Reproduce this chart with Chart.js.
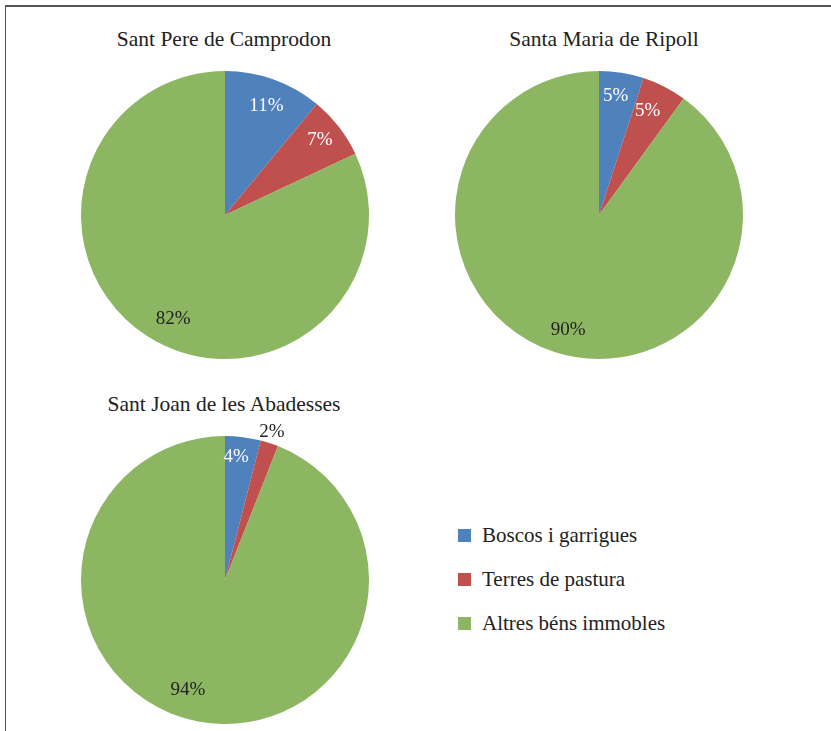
<!DOCTYPE html>
<html>
<head>
<meta charset="utf-8">
<script src="https://cdn.jsdelivr.net/npm/chart.js@4.4.1/dist/chart.umd.min.js"></script>
<style>
  body { margin: 0; background: #fff; width: 831px; height: 731px; position: relative; overflow: hidden; font-family: "Liberation Serif", serif; }
  #frame { position: absolute; left: 5px; top: 5px; width: 830px; height: 730px; border-left: 1px solid #555; border-top: 2px solid #555; }
  .title { position: absolute; font-size: 21.5px; color: #222; transform: translate(-50%, -50%); white-space: nowrap; }
  .pie { position: absolute; }
  #legend { position: absolute; left: 458px; top: 513px; font-size: 21px; color: #222; }
  #legend div { height: 44px; display: flex; align-items: center; white-space: nowrap; }
  #legend span.box { display: inline-block; width: 13px; height: 13px; margin-right: 11px; }
</style>
</head>
<body>
<div id="frame"></div>
<div class="title" style="left:224px;top:39px">Sant Pere de Camprodon</div>
<div class="title" style="left:604px;top:39px">Santa Maria de Ripoll</div>
<div class="title" style="left:224px;top:404px">Sant Joan de les Abadesses</div>
<canvas class="pie" id="pie1" width="340" height="340" style="left:55px;top:45px"></canvas>
<canvas class="pie" id="pie2" width="340" height="340" style="left:429px;top:45px"></canvas>
<canvas class="pie" id="pie3" width="340" height="340" style="left:55px;top:410px"></canvas>
<div id="legend"></div>
<script>
const categories = ['Boscos i garrigues', 'Terres de pastura', 'Altres béns immobles'];
const camprodonValues = [11, 7, 82];
const ripollValues = [5, 5, 90];
const abadessesValues = [4, 2, 94];

const colors = ['#4f81bd', '#c0504d', '#8db662'];

// label placement: f = fraction of radius, a = angle nudge (deg), c = text colour
const labelStyle = [
    [{ f: 0.81, a: 1, c: '#fff' }, { f: 0.84, a: -0.5, c: '#fff' }, { f: 0.81, a: -6, c: '#222' }],
    [{ f: 0.835, a: -1, c: '#fff' }, { f: 0.80, a: -2, c: '#fff' }, { f: 0.83, a: -3, c: '#222' }],
    [{ f: 0.86, a: -2, c: '#fff' }, { f: 1.08, a: -0.4, c: '#222' }, { f: 0.805, a: 7.8, c: '#222' }]
];

const pctLabels = {
    id: 'pctLabels',
    afterDatasetsDraw(chart) {
        const ctx = chart.ctx;
        const styles = chart.options.plugins.pctLabels.styles;
        const meta = chart.getDatasetMeta(0);
        ctx.save();
        ctx.font = '19px "Liberation Serif", serif';
        ctx.textAlign = 'center';
        ctx.textBaseline = 'middle';
        meta.data.forEach((arc, i) => {
            const p = arc.getProps(['x', 'y', 'startAngle', 'endAngle', 'outerRadius'], true);
            const mid = (p.startAngle + p.endAngle) / 2 + styles[i].a * Math.PI / 180;
            const r = p.outerRadius * styles[i].f;
            ctx.fillStyle = styles[i].c;
            ctx.fillText(chart.data.datasets[0].data[i] + '%', p.x + Math.cos(mid) * r, p.y + Math.sin(mid) * r);
        });
        ctx.restore();
    }
};

function makePie(id, values, styles) {
    return new Chart(document.getElementById(id), {
        type: 'pie',
        data: {
            labels: categories,
            datasets: [{
                data: values,
                backgroundColor: colors,
                borderWidth: 0
            }]
        },
        options: {
            responsive: false,
            animation: false,
            devicePixelRatio: 1,
            radius: 144,
            layout: { padding: 0 },
            plugins: {
                legend: { display: false },
                tooltip: { enabled: false },
                pctLabels: { styles: styles }
            }
        },
        plugins: [pctLabels]
    });
}

makePie('pie1', camprodonValues, labelStyle[0]);
makePie('pie2', ripollValues, labelStyle[1]);
makePie('pie3', abadessesValues, labelStyle[2]);

const legend = document.getElementById('legend');
categories.forEach((name, i) => {
    const row = document.createElement('div');
    const box = document.createElement('span');
    box.className = 'box';
    box.style.background = colors[i];
    row.appendChild(box);
    row.appendChild(document.createTextNode(name));
    legend.appendChild(row);
});
</script>
</body>
</html>
